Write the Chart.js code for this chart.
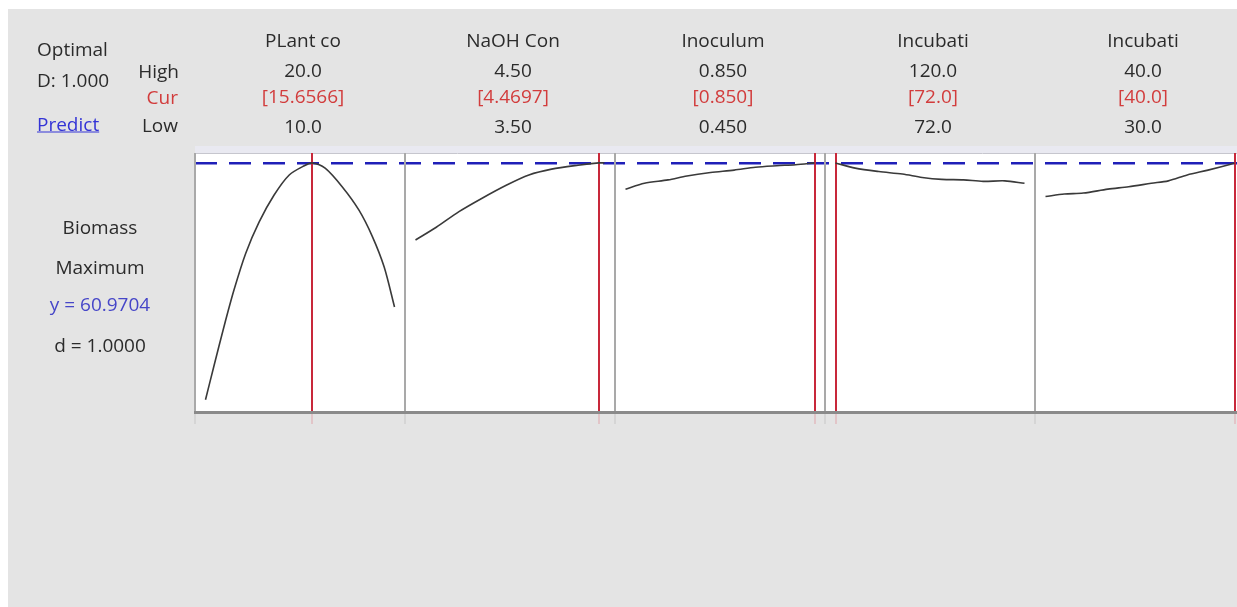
<!DOCTYPE html>
<html>
<head>
<meta charset="utf-8">
<script src="https://cdn.jsdelivr.net/npm/chart.js@4.4.1/dist/chart.umd.min.js"></script>
<style>
  html, body { margin: 0; padding: 0; background: #fff; overflow: hidden; }
  body { width: 1237px; height: 607px; position: relative; font-family: "Open Sans", sans-serif; }
  #bg { position: absolute; left: 8px; top: 9px; right: 0; bottom: 0; background: #e4e4e4; }
  #wrap { position: absolute; left: 0; top: 0; width: 1246px; height: 607px; }
  .lbl { position: absolute; font-size: 19px; line-height: 19px; color: #2b2b2b; white-space: nowrap; transform: translate(-50%, -50%); }
  .lbl.left { transform: translate(0, -50%); }
  .lbl.right { transform: translate(-100%, -50%); }
  .cur { color: #d23c3c; }
  .blue { color: #4646c8; }
  .link { color: #3434d6; text-decoration: underline; }
</style>
</head>
<body>
<div id="bg"></div>
<div id="wrap"><canvas id="c" width="1246" height="607"></canvas></div>
<div id="labels"></div>
<script>
// --- Faktoren (Kopfzeilen) ---
const factorNames = ["PLant co", "NaOH Con", "Inoculum", "Incubati", "Incubati"];
const highValues = [20.0, 4.50, 0.850, 120.0, 40.0];
const curValues = [15.6566, 4.4697, 0.850, 72.0, 40.0];
const lowValues = [10.0, 3.50, 0.450, 72.0, 30.0];
const highLabels = ["20.0", "4.50", "0.850", "120.0", "40.0"];
const curLabels = ["[15.6566]", "[4.4697]", "[0.850]", "[72.0]", "[40.0]"];
const lowLabels = ["10.0", "3.50", "0.450", "72.0", "30.0"];

// --- Antwort ---
const responseLines = ["Biomass", "Maximum", "y = 60.9704", "d = 1.0000"];
const targetY = 60.9704;

// --- Kurven ---
const plantX = [10, 10.44, 10.98, 11.51, 12.13, 12.84, 13.63, 14.43, 15.23, 15.6566, 16.33, 17.23, 18.12, 18.83, 19.45, 20.0];
const plantY = [12.5, 19.3, 27.5, 35.0, 42.5, 48.9, 54.4, 58.5, 60.4, 60.97, 59.9, 56.1, 51.3, 45.9, 39.7, 31.5];
const naohX = [3.5, 3.61, 3.73, 3.85, 3.98, 4.10, 4.22, 4.36, 4.4697, 4.5];
const naohY = [45.2, 47.8, 51.0, 53.7, 56.4, 58.5, 59.7, 60.5, 60.97, 60.96];
const inocX = [0.45, 0.49, 0.54, 0.58, 0.63, 0.68, 0.725, 0.77, 0.81, 0.85];
const inocY = [55.6, 56.8, 57.5, 58.3, 59.0, 59.5, 60.1, 60.4, 60.6, 60.97];
const timeX = [72, 77, 83, 89, 94, 99, 104.5, 109.5, 115, 120];
const timeY = [60.97, 59.9, 59.2, 58.7, 58.0, 57.6, 57.5, 57.2, 57.3, 56.8];
const tempX = [30, 31, 32, 33.3, 34.4, 35.6, 36.5, 37.5, 38.6, 39.8, 40];
const tempY = [54.1, 54.6, 54.8, 55.6, 56.1, 56.8, 57.3, 58.5, 59.5, 60.7, 60.97];

const curvesX = [plantX, naohX, inocX, timeX, tempX];
const curvesY = [plantY, naohY, inocY, timeY, tempY];

const Y_MIN = 10, Y_MAX = 63;
const PAD = 1 / 18; // Randabstand pro Panel

// weisser Hintergrund fuer die Panels
const panelBg = {
  id: "panelBg",
  beforeDraw(chart) {
    const { ctx, chartArea: a } = chart;
    ctx.save();
    ctx.fillStyle = "#e9e9f1";
    ctx.fillRect(a.left, a.top - 7, a.right - a.left, 7);
    ctx.fillStyle = "#ffffff";
    ctx.fillRect(a.left, a.top, a.right - a.left, a.bottom - a.top);
    ctx.restore();
  },
};

const datasets = curvesX.map((xs, i) => ({
  data: xs.map((x, k) => ({ x, y: curvesY[i][k] })),
  xAxisID: "x" + i,
  yAxisID: "y",
  borderColor: "#3a3a3a",
  borderWidth: 1.6,
  pointRadius: 0,
  tension: 0.3,
  fill: false,
}));

const scales = {
  y: {
    type: "linear",
    position: "left",
    min: Y_MIN,
    max: Y_MAX,
    afterBuildTicks: (s) => { s.ticks = [{ value: Y_MAX }, { value: targetY }]; },
    ticks: { display: false },
    grid: {
      drawTicks: false,
      color: (c) => c.index === 1 ? "#1f1fb8" : "#c6c6ce",
      lineWidth: (c) => c.index === 1 ? 2.6 : 1,
    },
    border: { display: false, dash: (c) => c.index === 1 ? [22, 12] : [] },
  },
};

factorNames.forEach((_, i) => {
  const span = highValues[i] - lowValues[i];
  scales["x" + i] = {
    type: "linear",
    position: "bottom",
    stack: "panels",
    stackWeight: 1,
    min: lowValues[i] - span * PAD,
    max: highValues[i] + span * PAD,
    afterBuildTicks: (s) => { s.ticks = [{ value: s.min }, { value: curValues[i] }]; },
    ticks: { display: false },
    grid: {
      color: (c) => c.index === 1 ? "#c8283a" : "#a9a9a9",
      lineWidth: 2,
      tickLength: 12,
      tickColor: (c) => c.index === 1 ? "rgba(220,110,120,0.35)" : "rgba(170,170,170,0.35)",
      tickWidth: 1.5,
    },
    border: { display: true, color: "#8a8a8a", width: 3 },
  };
});

const chart = new Chart(document.getElementById("c").getContext("2d"), {
  type: "line",
  data: { datasets },
  options: {
    responsive: false,
    animation: false,
    devicePixelRatio: 1,
    events: [],
    layout: { padding: { left: 195, top: 153, right: 1, bottom: 183 } },
    plugins: { legend: { display: false }, tooltip: { enabled: false } },
    scales,
  },
  plugins: [panelBg],
});

// --- Texte ---
const box = document.getElementById("labels");
const addLabel = (text, x, y, cls = "") => {
  const d = document.createElement("div");
  d.className = "lbl " + cls;
  d.textContent = text;
  d.style.left = x + "px";
  d.style.top = y + "px";
  box.appendChild(d);
};

addLabel("Optimal", 37, 49, "left");
addLabel("D: 1.000", 37, 80, "left");
addLabel("Predict", 37, 124, "left link");
addLabel("High", 179, 71, "right");
addLabel("Cur", 178, 97, "right cur");
addLabel("Low", 178, 125, "right");

factorNames.forEach((name, i) => {
  const s = chart.scales["x" + i];
  const cx = (s.left + s.right) / 2 + 3;
  addLabel(name, cx, 40);
  addLabel(highLabels[i], cx, 69.5);
  addLabel(curLabels[i], cx, 96, "cur");
  addLabel(lowLabels[i], cx, 126);
});

const respY = [227, 267, 304, 345];
responseLines.forEach((t, k) => addLabel(t, 100, respY[k], k === 2 ? "blue" : ""));
</script>
</body>
</html>
